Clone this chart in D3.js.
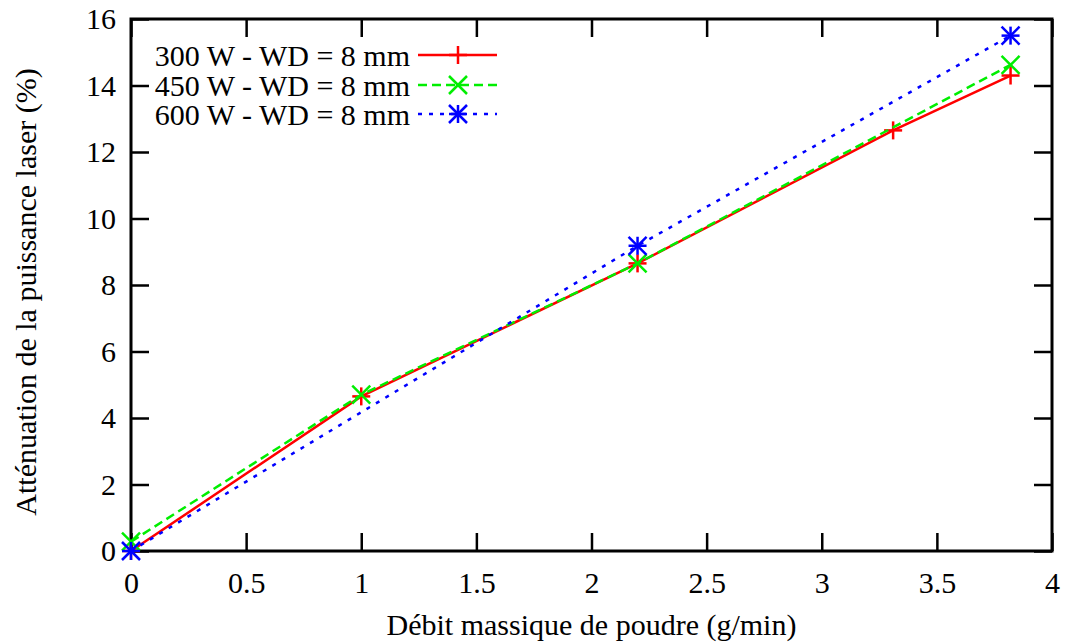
<!DOCTYPE html>
<html><head><meta charset="utf-8">
<script src="https://cdn.jsdelivr.net/npm/d3@7"></script>
</head><body style="margin:0"><svg id="c" width="1072" height="644" font-family="Liberation Serif"></svg>
<script>
const xTicks = [0, 0.5, 1, 1.5, 2, 2.5, 3, 3.5, 4];
const xTickLabels = ["0", "0.5", "1", "1.5", "2", "2.5", "3", "3.5", "4"];
const yTicks = [0, 2, 4, 6, 8, 10, 12, 14, 16];
const seriesNames = ["300 W - WD = 8 mm", "450 W - WD = 8 mm", "600 W - WD = 8 mm"];
const x300 = [0, 1, 2.2, 3.31, 3.82];
const y300 = [0, 4.65, 8.65, 12.65, 14.3];
const x450 = [0, 1, 2.2, 3.82];
const y450 = [0.28, 4.7, 8.65, 14.62];
const x600 = [0, 2.2, 3.82];
const y600 = [0, 9.18, 15.5];

const FF = "'Liberation Serif'";
const svg = d3.select("#c");
const L = 131, R = 1052, T = 19, B = 551;
const x = d3.scaleLinear().domain([0, 4]).range([L, R]);
const y = d3.scaleLinear().domain([0, 16]).range([B, T]);
const fs = 30;

const tl = 18;
const gb = svg.append("g").attr("transform", `translate(0,${B})`)
  .call(d3.axisBottom(x).tickValues(xTicks).tickFormat((d,i)=>xTickLabels[i]).tickSizeInner(-tl).tickSizeOuter(0).tickPadding(21));
const gt = svg.append("g").attr("transform", `translate(0,${T})`)
  .call(d3.axisTop(x).tickValues(xTicks).tickFormat("").tickSizeInner(-tl).tickSizeOuter(0));
const gl = svg.append("g").attr("transform", `translate(${L},0)`)
  .call(d3.axisLeft(y).tickValues(yTicks).tickFormat(d3.format("d")).tickSizeInner(-tl).tickSizeOuter(0).tickPadding(15));
const gr = svg.append("g").attr("transform", `translate(${R},0)`)
  .call(d3.axisRight(y).tickValues(yTicks).tickFormat("").tickSizeInner(-tl).tickSizeOuter(0));
[gb, gt, gl, gr].forEach(g => {
  g.attr("font-family", "Liberation Serif").attr("font-size", fs);
  g.select(".domain").remove();
  g.selectAll(".tick line").attr("stroke", "#000").attr("stroke-width", 2.5);
  g.selectAll("text").style("font-family", FF).attr("font-size", fs).attr("fill", "#000");
});
gb.selectAll("text").attr("dy", "0.71em");
svg.append("rect").attr("x", L).attr("y", T).attr("width", R - L).attr("height", B - T)
  .attr("fill", "none").attr("stroke", "#000").attr("stroke-width", 3);

svg.append("text").attr("x", (L + R) / 2).attr("y", 635).attr("text-anchor", "middle")
  .style("font-family", FF).attr("font-size", fs).text("Débit massique de poudre (g/min)");
svg.append("text").attr("transform", `translate(36,${(T + B) / 2 + 7}) rotate(-90)`).attr("text-anchor", "middle")
  .style("font-family", FF).attr("font-size", fs).text("Atténuation de la puissance laser (%)");

const series = [
  {xs: x300, ys: y300, color: "#ff0000", dash: null, marker: "plus"},
  {xs: x450, ys: y450, color: "#00ee00", dash: "9,5", marker: "cross"},
  {xs: x600, ys: y600, color: "#0000ff", dash: "4,7", marker: "star"}
];
const line = d3.line().x(d => x(d[0])).y(d => y(d[1]));
const ms = 9;
function drawMarker(g, cx, cy, type, color) {
  const segs = [];
  if (type === "plus" || type === "star") { segs.push([-ms,0,ms,0],[0,-ms,0,ms]); }
  if (type === "cross" || type === "star") { segs.push([-ms,-ms,ms,ms],[-ms,ms,ms,-ms]); }
  segs.forEach(s => g.append("line").attr("x1", cx + s[0]).attr("y1", cy + s[1]).attr("x2", cx + s[2]).attr("y2", cy + s[3])
    .attr("stroke", color).attr("stroke-width", 2.5));
}
series.forEach(s => {
  const pts = s.xs.map((v, i) => [v, s.ys[i]]);
  const p = svg.append("path").datum(pts).attr("d", line).attr("fill", "none")
    .attr("stroke", s.color).attr("stroke-width", 2.5);
  if (s.dash) p.attr("stroke-dasharray", s.dash);
  const g = svg.append("g");
  pts.forEach(d => drawMarker(g, x(d[0]), y(d[1]), s.marker, s.color));
});

const legY = [55, 85, 114];
series.forEach((s, i) => {
  svg.append("text").attr("x", 410).attr("y", legY[i]).attr("dy", "0.35em").attr("text-anchor", "end")
    .style("font-family", FF).attr("font-size", fs).text(seriesNames[i]);
  const l = svg.append("line").attr("x1", 418).attr("x2", 497).attr("y1", legY[i]).attr("y2", legY[i])
    .attr("stroke", s.color).attr("stroke-width", 2.5);
  if (s.dash) l.attr("stroke-dasharray", s.dash);
  drawMarker(svg, 458, legY[i], s.marker, s.color);
});
</script></body></html>
